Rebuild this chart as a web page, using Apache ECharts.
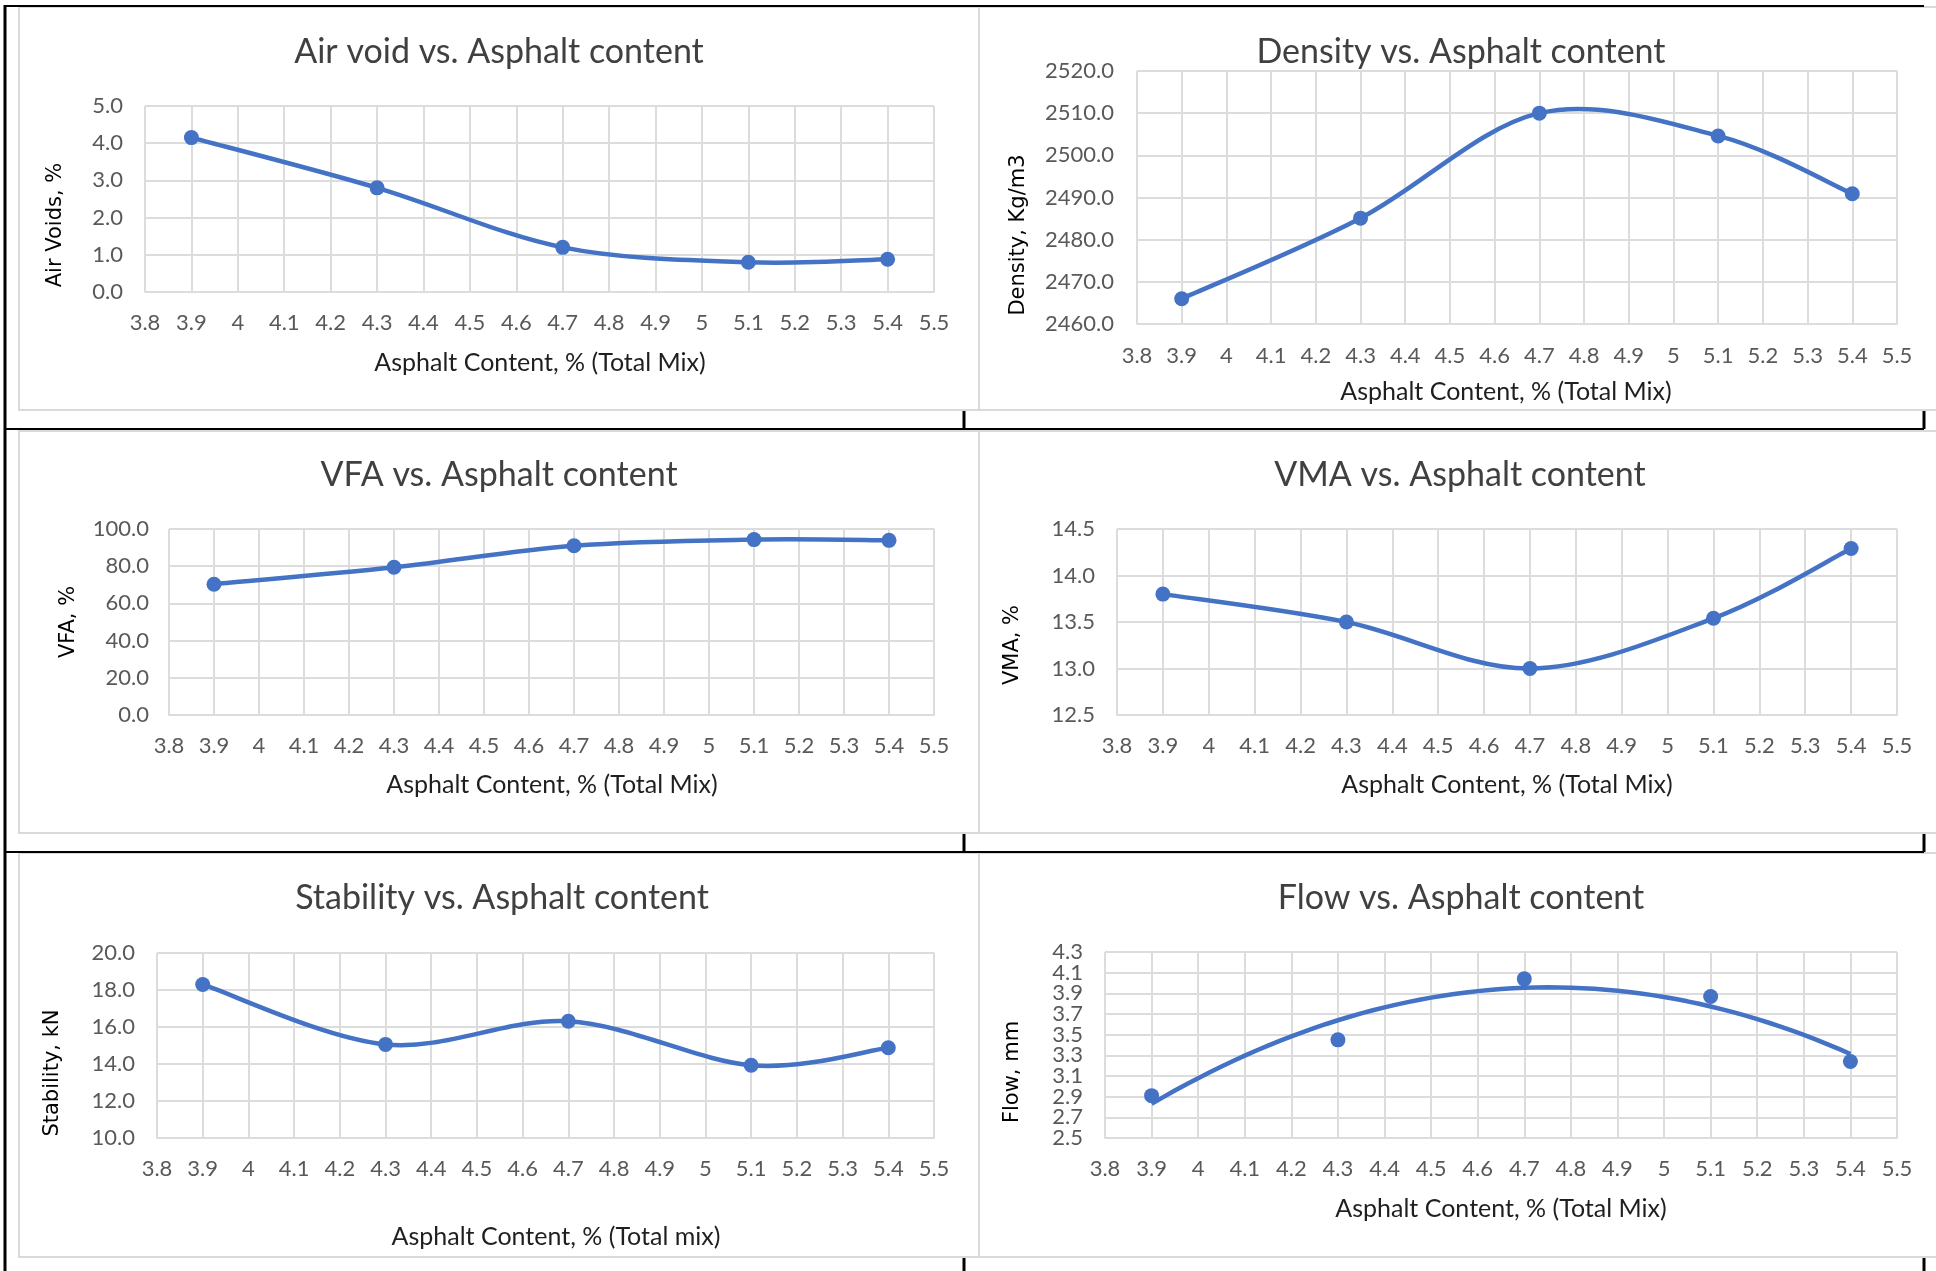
<!DOCTYPE html>
<html>
<head>
<meta charset="utf-8">
<title>Marshall mix design curves</title>
<script src="https://cdn.jsdelivr.net/npm/echarts@6/dist/echarts.min.js"></script>
<style>
  html, body { margin: 0; padding: 0; background: #ffffff; }
  #main { width: 1936px; height: 1271px; }
</style>
</head>
<body>
<div id="main"></div>
<script>
// Asphalt content of the trial mixes (% of total mix)
const asphaltContent = [3.9, 4.3, 4.7, 5.1, 5.4];

// Measured properties for each trial mix
const airVoids  = [4.15, 2.8, 1.2, 0.8, 0.88];              // %
const density   = [2466.0, 2485.1, 2510.0, 2504.6, 2490.9]; // kg/m3
const vfa       = [70.3, 79.4, 91.0, 94.3, 93.9];           // %
const vma       = [13.8, 13.5, 13.0, 13.54, 14.29];         // %
const stability = [18.3, 15.06, 16.31, 13.93, 14.88];       // kN
const flow      = [2.91, 3.45, 4.04, 3.87, 3.24];           // mm

// Tick labels of the densely packed flow axis
const flowTickLabels = ['2.5', '2.7', '2.9', '3.1', '3.3', '3.5', '3.7', '3.9', '4.1', '4.3'];

// Horizontal axis range shared by all panels
const xRange = { min: 3.8, max: 5.5, step: 0.1 };

// Vertical axis ranges per panel
const yRanges = {
  airVoids:  { min: 0,    max: 5,    step: 1 },
  density:   { min: 2460, max: 2520, step: 10 },
  vfa:       { min: 0,    max: 100,  step: 20 },
  vma:       { min: 12.5, max: 14.5, step: 0.5 },
  stability: { min: 10,   max: 20,   step: 2 },
  flow:      { min: 2.5,  max: 4.3,  step: 0.2 }
};

// Second-order polynomial least-squares fit (trendline for flow)
function quadFit(xs, ys) {
  const n = xs.length;
  const mx = xs.reduce((a, b) => a + b, 0) / n;
  const s = [0, 0, 0, 0, 0], t = [0, 0, 0];
  xs.forEach((x, i) => {
    const u = x - mx;
    for (let k = 0; k < 5; k++) s[k] += Math.pow(u, k);
    for (let k = 0; k < 3; k++) t[k] += Math.pow(u, k) * ys[i];
  });
  const A = [[s[0], s[1], s[2], t[0]], [s[1], s[2], s[3], t[1]], [s[2], s[3], s[4], t[2]]];
  for (let c = 0; c < 3; c++) {
    for (let r = c + 1; r < 3; r++) {
      const f = A[r][c] / A[c][c];
      for (let k = c; k < 4; k++) A[r][k] -= f * A[c][k];
    }
  }
  const coef = [0, 0, 0];
  for (let r = 2; r >= 0; r--) {
    let v = A[r][3];
    for (let k = r + 1; k < 3; k++) v -= A[r][k] * coef[k];
    coef[r] = v / A[r][r];
  }
  return x => { const u = x - mx; return coef[0] + coef[1] * u + coef[2] * u * u; };
}

const flowFit = quadFit(asphaltContent, flow);
const flowTrend = [];
{
  const a = asphaltContent[0], b = asphaltContent[asphaltContent.length - 1];
  for (let i = 0; i <= 60; i++) {
    const x = a + (b - a) * i / 60;
    flowTrend.push([x, flowFit(x)]);
  }
}

const pair = ys => asphaltContent.map((x, i) => [x, ys[i]]);

const BLUE = '#4472C4';
const GRID_GREY = '#dcdcdc';
const TICK_COLOR = '#595959';
const LABEL_FONT = 'Lato, "Open Sans", sans-serif';
const TICK_SIZE = 22;
const LINE_W = 4.5;
const DOT = 15;

// Smoothed connector: cardinal bezier segments between neighbouring points,
// computed in pixel space from the axis scales (tension 1/6).
function smoothSegments(points) {
  return function (params, api) {
    const i = params.dataIndex;
    if (i >= points.length - 1) return null;
    const P = k => api.coord(points[Math.max(0, Math.min(points.length - 1, k))]);
    const p0 = P(i - 1), p1 = P(i), p2 = P(i + 1), p3 = P(i + 2);
    return {
      type: 'bezierCurve',
      shape: {
        x1: p1[0], y1: p1[1], x2: p2[0], y2: p2[1],
        cpx1: p1[0] + (p2[0] - p0[0]) / 6, cpy1: p1[1] + (p2[1] - p0[1]) / 6,
        cpx2: p2[0] - (p3[0] - p1[0]) / 6, cpy2: p2[1] - (p3[1] - p1[1]) / 6
      },
      style: { stroke: BLUE, lineWidth: LINE_W, fill: null, lineCap: 'round' }
    };
  };
}

const panels = [
  { title: 'Air void vs. Asphalt content', yName: 'Air Voids, %', xName: 'Asphalt Content, % (Total Mix)',
    data: airVoids, range: yRanges.airVoids,
    grid: { left: 145, top: 106, width: 789, height: 186 },
    titleAt: [499, 52], xNameAt: [540, 363], yNameAt: [56, 225], xMargin: 20, yMargin: 22 },
  { title: 'Density vs. Asphalt content', yName: 'Density, Kg/m3', xName: 'Asphalt Content, % (Total Mix)',
    data: density, range: yRanges.density,
    grid: { left: 1137, top: 71, width: 760, height: 253 },
    titleAt: [1461, 52], xNameAt: [1506, 392], yNameAt: [1019, 235], xMargin: 21, yMargin: 23 },
  { title: 'VFA vs. Asphalt content', yName: 'VFA, %', xName: 'Asphalt Content, % (Total Mix)',
    data: vfa, range: yRanges.vfa,
    grid: { left: 169, top: 529, width: 765, height: 186 },
    titleAt: [499, 475], xNameAt: [552, 785], yNameAt: [69, 622], xMargin: 20, yMargin: 20 },
  { title: 'VMA vs. Asphalt content', yName: 'VMA, %', xName: 'Asphalt Content, % (Total Mix)',
    data: vma, range: yRanges.vma,
    grid: { left: 1117, top: 529, width: 780, height: 186 },
    titleAt: [1460, 475], xNameAt: [1507, 785], yNameAt: [1013, 645], xMargin: 20, yMargin: 22 },
  { title: 'Stability vs. Asphalt content', yName: 'Stability, kN', xName: 'Asphalt Content, % (Total mix)',
    data: stability, range: yRanges.stability,
    grid: { left: 157, top: 953, width: 777, height: 185 },
    titleAt: [502, 898], xNameAt: [556, 1237], yNameAt: [53, 1073], xMargin: 20, yMargin: 22 },
  { title: 'Flow vs. Asphalt content', yName: 'Flow, mm', xName: 'Asphalt Content, % (Total Mix)',
    data: flow, range: yRanges.flow, trend: flowTrend, ownTickLabels: flowTickLabels,
    grid: { left: 1105, top: 952, width: 792, height: 186 },
    titleAt: [1461, 898], xNameAt: [1501, 1209], yNameAt: [1013, 1072], xMargin: 20, yMargin: 22 }
];

const grids = [], xAxes = [], yAxes = [], series = [], texts = [];

panels.forEach((p, i) => {
  const pts = pair(p.data);
  grids.push(Object.assign({ containLabel: false }, p.grid));
  xAxes.push({
    type: 'value', gridIndex: i,
    min: xRange.min, max: xRange.max, interval: xRange.step,
    axisLine: { show: true, lineStyle: { color: GRID_GREY, width: 2 } },
    axisTick: { show: false },
    splitLine: { show: true, lineStyle: { color: GRID_GREY, width: 2 } },
    axisLabel: {
      margin: p.xMargin, color: TICK_COLOR, fontSize: TICK_SIZE, fontFamily: LABEL_FONT,
      showMinLabel: true, showMaxLabel: true,
      formatter: v => String(+v.toFixed(1))
    }
  });
  yAxes.push({
    type: 'value', gridIndex: i,
    min: p.range.min, max: p.range.max, interval: p.range.step,
    axisLine: { show: false },
    axisTick: { show: false },
    splitLine: { show: true, lineStyle: { color: GRID_GREY, width: 2 } },
    axisLabel: {
      show: !p.ownTickLabels,
      margin: p.yMargin, color: TICK_COLOR, fontSize: TICK_SIZE, fontFamily: LABEL_FONT,
      showMinLabel: true, showMaxLabel: true,
      formatter: v => v.toFixed(1)
    }
  });
  if (p.trend) {
    series.push({
      type: 'line', xAxisIndex: i, yAxisIndex: i,
      data: p.trend, showSymbol: false, smooth: false,
      lineStyle: { color: BLUE, width: LINE_W }, z: 2
    });
  } else {
    series.push({
      type: 'custom', xAxisIndex: i, yAxisIndex: i,
      data: pts, renderItem: smoothSegments(pts), z: 2, silent: true
    });
  }
  series.push({
    type: 'scatter', xAxisIndex: i, yAxisIndex: i,
    data: pts, symbol: 'circle', symbolSize: DOT,
    itemStyle: { color: BLUE, opacity: 1 }, z: 3
  });
  texts.push({
    type: 'text', x: p.titleAt[0], y: p.titleAt[1], z: 10,
    style: { text: p.title, fill: '#404040', fontSize: 34, fontFamily: LABEL_FONT,
      align: 'center', verticalAlign: 'middle' }
  });
  texts.push({
    type: 'text', x: p.xNameAt[0], y: p.xNameAt[1], z: 10,
    style: { text: p.xName, fill: '#1f1f1f', fontSize: 25, fontFamily: LABEL_FONT,
      align: 'center', verticalAlign: 'middle' }
  });
  texts.push({
    type: 'text', x: p.yNameAt[0], y: p.yNameAt[1], rotation: Math.PI / 2, z: 10,
    style: { text: p.yName, fill: '#000000', fontSize: 21, fontFamily: '"DejaVu Sans", sans-serif',
      align: 'center', verticalAlign: 'middle' }
  });
});

// Picture frames around each panel and the surrounding table rules
const FRAME = '#d9d9d9';
const frameRows = [[7, 410], [431, 833], [853, 1257]];
const frames = [];
frameRows.forEach(([t, b]) => {
  frames.push({ type: 'rect', z: 1, shape: { x: 19, y: t, width: 960, height: b - t },
    style: { fill: 'none', stroke: FRAME, lineWidth: 2 } });
  frames.push({ type: 'rect', z: 1, shape: { x: 979, y: t, width: 970, height: b - t },
    style: { fill: 'none', stroke: FRAME, lineWidth: 2 } });
});
const rule = (x1, y1, x2, y2, w) => ({
  type: 'line', z: 20, shape: { x1, y1, x2, y2 }, style: { stroke: '#000000', lineWidth: w }
});
const rules = [
  rule(5, 6, 1924, 6, 2),
  rule(5, 5, 5, 1271, 3),
  rule(5, 429, 1924, 429, 2),
  rule(5, 852, 1924, 852, 2),
  rule(964, 411, 964, 429, 3), rule(1924, 411, 1924, 429, 3),
  rule(964, 834, 964, 852, 3), rule(1924, 834, 1924, 852, 3),
  rule(964, 1258, 964, 1271, 3), rule(1924, 1258, 1924, 1271, 3)
];

const chart = echarts.init(document.getElementById('main'), null, { renderer: 'canvas' });
const baseGraphics = frames.concat(rules, texts);
chart.setOption({
  backgroundColor: '#ffffff',
  animation: false,
  grid: grids,
  xAxis: xAxes,
  yAxis: yAxes,
  series: series,
  graphic: baseGraphics
});

// Tick labels for tightly spaced axes, placed with the axis scale so none are dropped
const extraLabels = [];
panels.forEach((p, i) => {
  if (!p.ownTickLabels) return;
  p.ownTickLabels.forEach(lbl => {
    const y = chart.convertToPixel({ yAxisIndex: i }, parseFloat(lbl));
    extraLabels.push({
      type: 'text', x: p.grid.left - p.yMargin, y: y, z: 10,
      style: { text: lbl, fill: TICK_COLOR, fontSize: TICK_SIZE, fontFamily: LABEL_FONT,
        align: 'right', verticalAlign: 'middle' }
    });
  });
});
chart.setOption({ graphic: baseGraphics.concat(extraLabels) });
</script>
</body>
</html>
